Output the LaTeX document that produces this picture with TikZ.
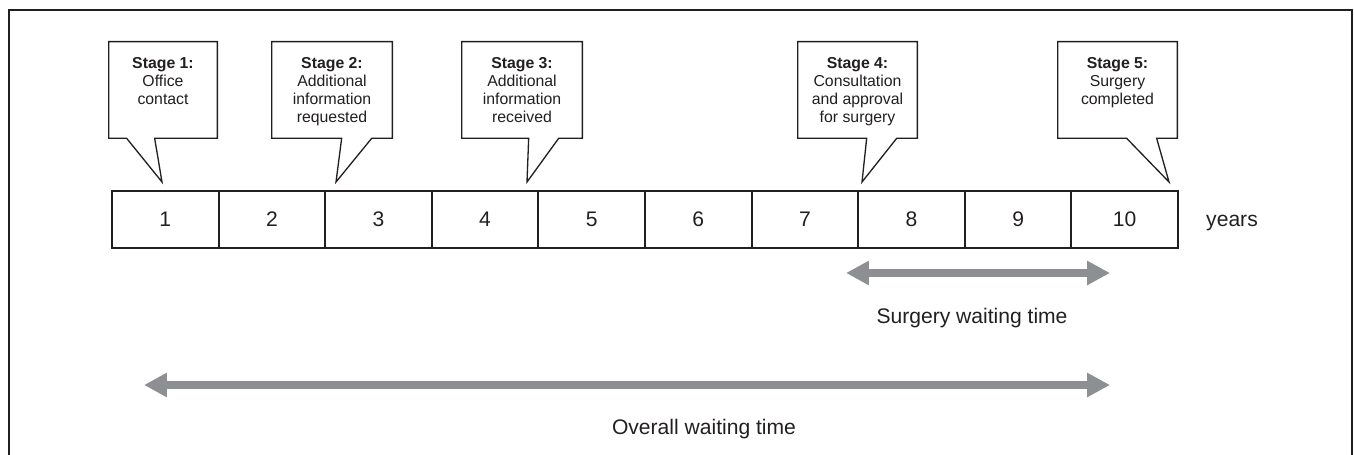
\documentclass[tikz,border=0pt]{standalone}
\usepackage{fontspec}
\setmainfont{Liberation Sans}
\usetikzlibrary{positioning, calc, arrows.meta}

\definecolor{waitgray}{HTML}{8E8F92}
\definecolor{inkgray}{HTML}{231F20}

\begin{document}
\begin{tikzpicture}[x=0.02cm, y=-0.02cm,
	stagebox/.style={shape=rectangle, inner sep=0pt, minimum height=1.92cm},
	stagetext/.style={anchor=north, inner sep=0pt, align=center, text=inkgray, font=\fontsize{9}{10.3}\selectfont},
	calloutline/.style={draw=inkgray, line width=0.75pt, line join=miter, fill=white},
	yearcell/.style={shape=rectangle, draw=inkgray, line width=1.1pt, minimum width=2.132cm, minimum height=1.14cm, text=inkgray, font=\fontsize{12}{14}\selectfont},
	waitarrow/.style={draw=waitgray, line width=4.5pt, {Triangle[length=13pt,width=13pt]}-{Triangle[length=13pt,width=13pt]}},
	waitlabel/.style={anchor=base, inner sep=0pt, text=inkgray, font=\fontsize{12}{14}\selectfont}]
	\useasboundingbox (0,0) rectangle (1354,455);
	\draw[draw=inkgray, line width=0.6pt] (9,10) rectangle (1352,458);

	% the ten cells of the time line
	\node[yearcell] (y1) at (165.3, 219.5) {1};
	\node[yearcell] (y2) at (271.9, 219.5) {2};
	\node[yearcell] (y3) at (378.5, 219.5) {3};
	\node[yearcell] (y4) at (485.1, 219.5) {4};
	\node[yearcell] (y5) at (591.7, 219.5) {5};
	\node[yearcell] (y6) at (698.3, 219.5) {6};
	\node[yearcell] (y7) at (804.9, 219.5) {7};
	\node[yearcell] (y8) at (911.5, 219.5) {8};
	\node[yearcell] (y9) at (1018.1, 219.5) {9};
	\node[yearcell] (y10) at (1124.7, 219.5) {10};
	\node[waitlabel] (unit) at (1232, 227) {years};

	% callouts
	\node[stagebox, minimum width=2.16cm] (b1) at (163, 90) {};
	\node[stagebox, minimum width=2.4cm] (b2) at (332, 90) {};
	\node[stagebox, minimum width=2.4cm] (b3) at (522, 90) {};
	\node[stagebox, minimum width=2.38cm] (b4) at (857.5, 90) {};
	\node[stagebox, minimum width=2.38cm] (b5) at (1117.5, 90) {};

	\coordinate (p1) at (162, 182);
	\coordinate (p2) at (336, 182);
	\coordinate (p3) at (527, 182);
	\coordinate (p4) at (862, 182);
	\coordinate (p5) at (1169, 182);

	\path[calloutline] (b1.south west) -- (b1.north west) -- (b1.north east) -- (b1.south east) -- ($(b1.south west)+(46,0)$) -- (p1) -- ($(b1.south west)+(18,0)$) -- cycle;
	\path[calloutline] (b2.south west) -- (b2.north west) -- (b2.north east) -- (b2.south east) -- ($(b2.south west)+(100,0)$) -- (p2) -- ($(b2.south west)+(70,0)$) -- cycle;
	\path[calloutline] (b3.south west) -- (b3.north west) -- (b3.north east) -- (b3.south east) -- ($(b3.south west)+(97,0)$) -- (p3) -- ($(b3.south west)+(67,0)$) -- cycle;
	\path[calloutline] (b4.south west) -- (b4.north west) -- (b4.north east) -- (b4.south east) -- ($(b4.south west)+(99,0)$) -- (p4) -- ($(b4.south west)+(69,0)$) -- cycle;
	\path[calloutline] (b5.south west) -- (b5.north west) -- (b5.north east) -- (b5.south east) -- ($(b5.south west)+(99,0)$) -- (p5) -- ($(b5.south west)+(69,0)$) -- cycle;

	\node[stagetext] (s1) at (163, 57) {\textbf{Stage 1:}\\Office\\contact};
	\node[stagetext] (s2) at (332, 57) {\textbf{Stage 2:}\\Additional\\information\\requested};
	\node[stagetext] (s3) at (522, 57) {\textbf{Stage 3:}\\Additional\\information\\received};
	\node[stagetext] (s4) at (857.5, 57) {\textbf{Stage 4:}\\Consultation\\and approval\\for surgery};
	\node[stagetext] (s5) at (1117.5, 57) {\textbf{Stage 5:}\\Surgery\\completed};

	% waiting times
	\coordinate (sw1) at (846, 273);
	\coordinate (sw2) at (1110, 273);
	\coordinate (ow1) at (144, 385);
	\coordinate (ow2) at (1110, 385);
	\draw[waitarrow] (sw1) -- (sw2);
	\draw[waitarrow] (ow1) -- (ow2);
	\node[waitlabel] (swt) at (972, 324) {Surgery waiting time};
	\node[waitlabel] (owt) at (704, 434) {Overall waiting time};
\end{tikzpicture}
\end{document}
